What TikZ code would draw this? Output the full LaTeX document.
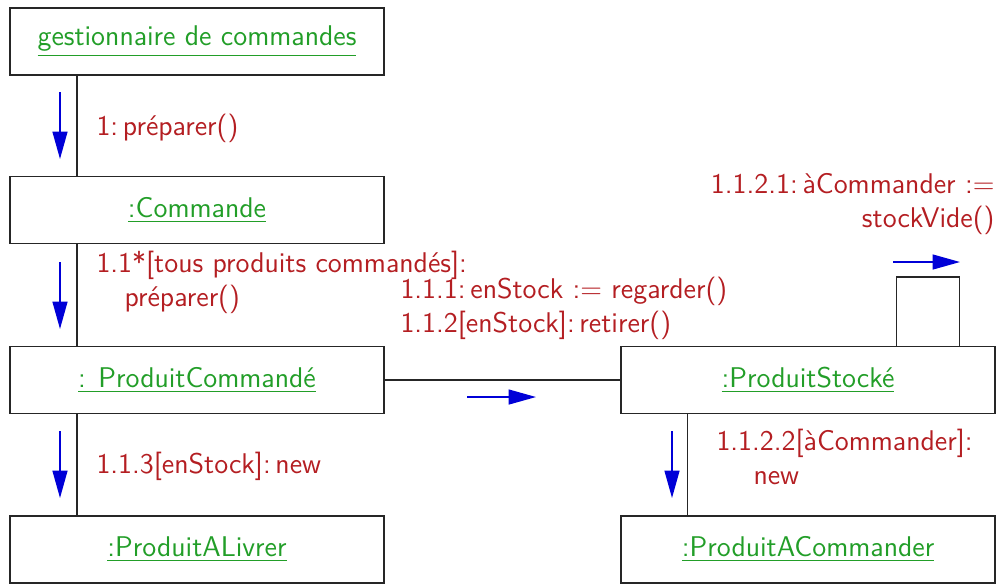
\documentclass[tikz,border=0pt]{standalone}
\usetikzlibrary{arrows.meta,calc}
\definecolor{objgreen}{RGB}{34,158,40}
\definecolor{msgred}{RGB}{180,30,34}
\definecolor{msgblue}{RGB}{0,0,215}
\tikzset{
  objbox/.style={draw=black!85, line width=0.6pt, minimum width=149.6pt,
    minimum height=26.8pt, inner sep=0pt, text=objgreen,
    font=\sffamily\fontsize{11.4}{13}\selectfont},
  link/.style={draw=black!85, line width=0.6pt},
  msg/.style={draw=msgblue, line width=0.6pt, -{Triangle[length=11pt,width=6pt]}},
  msglabel/.style={text=msgred, inner sep=0pt, align=left,
    font=\sffamily\fontsize{11.4}{13.6}\selectfont}
}
\newcommand{\objname}[1]{\underline{#1}}
\begin{document}
\begin{tikzpicture}[x=0.4pt, y=-0.4pt]
  \useasboundingbox (0,0) rectangle (997,583);
  % objects
  \node[objbox] (gest) at (197,41.5)  {\objname{gestionnaire de commandes}};
  \node[objbox] (cmd)  at (197,210)   {\objname{:Commande}};
  \node[objbox] (pc)   at (197,380)   {\objname{: ProduitCommandé}};
  \node[objbox] (pal)  at (197,549.5) {\objname{:ProduitALivrer}};
  \node[objbox] (ps)   at (808,380)   {\objname{:ProduitStocké}};
  \node[objbox] (pac)  at (808,549.5) {\objname{:ProduitACommander}};
  % links
  \draw[link] ($(gest.south west)+(68,0)$) -- ($(cmd.north west)+(68,0)$);
  \draw[link] ($(cmd.south west)+(68,0)$) -- ($(pc.north west)+(68,0)$);
  \draw[link] ($(pc.south west)+(68,0)$) -- ($(pal.north west)+(68,0)$);
  \draw[link] (pc.east) -- (ps.west);
  \draw[link] ($(ps.south west)+(67,0)$) -- ($(pac.north west)+(67,0)$);
  \draw[link] ($(ps.north west)+(276,0)$) -- ++(0,-69) -- ++(63,0) -- ++(0,69);
  % message arrows
  \draw[msg] (60,92) -- (60,159);
  \draw[msg] (60,262) -- (60,329);
  \draw[msg] (60,431) -- (60,498);
  \draw[msg] (672,431) -- (672,498);
  \draw[msg] (467,397) -- (536,397);
  \draw[msg] (893,262) -- (960,262);
  % message labels
  \node[msglabel, anchor=west] (m1) at (96,128) {1:\,préparer()};
  \node[msglabel, anchor=north west] (m11) at (96,251)
    {1.1*[tous produits commandés]:\\\hspace*{11.2pt}préparer()};
  \node[msglabel, anchor=north west] (m111) at (400,277)
    {1.1.1:\,enStock := regarder()\\1.1.2[enStock]:\,retirer()};
  \node[msglabel, anchor=north east, align=right] (m1121) at (995,173)
    {1.1.2.1:\,àCommander :=\\stockVide()};
  \node[msglabel, anchor=west] (m113) at (96,466) {1.1.3[enStock]:\,new};
  \node[msglabel, anchor=north west] (m1122) at (716,429)
    {1.1.2.2[àCommander]:\\\hspace*{14.8pt}new};
\end{tikzpicture}
\end{document}
